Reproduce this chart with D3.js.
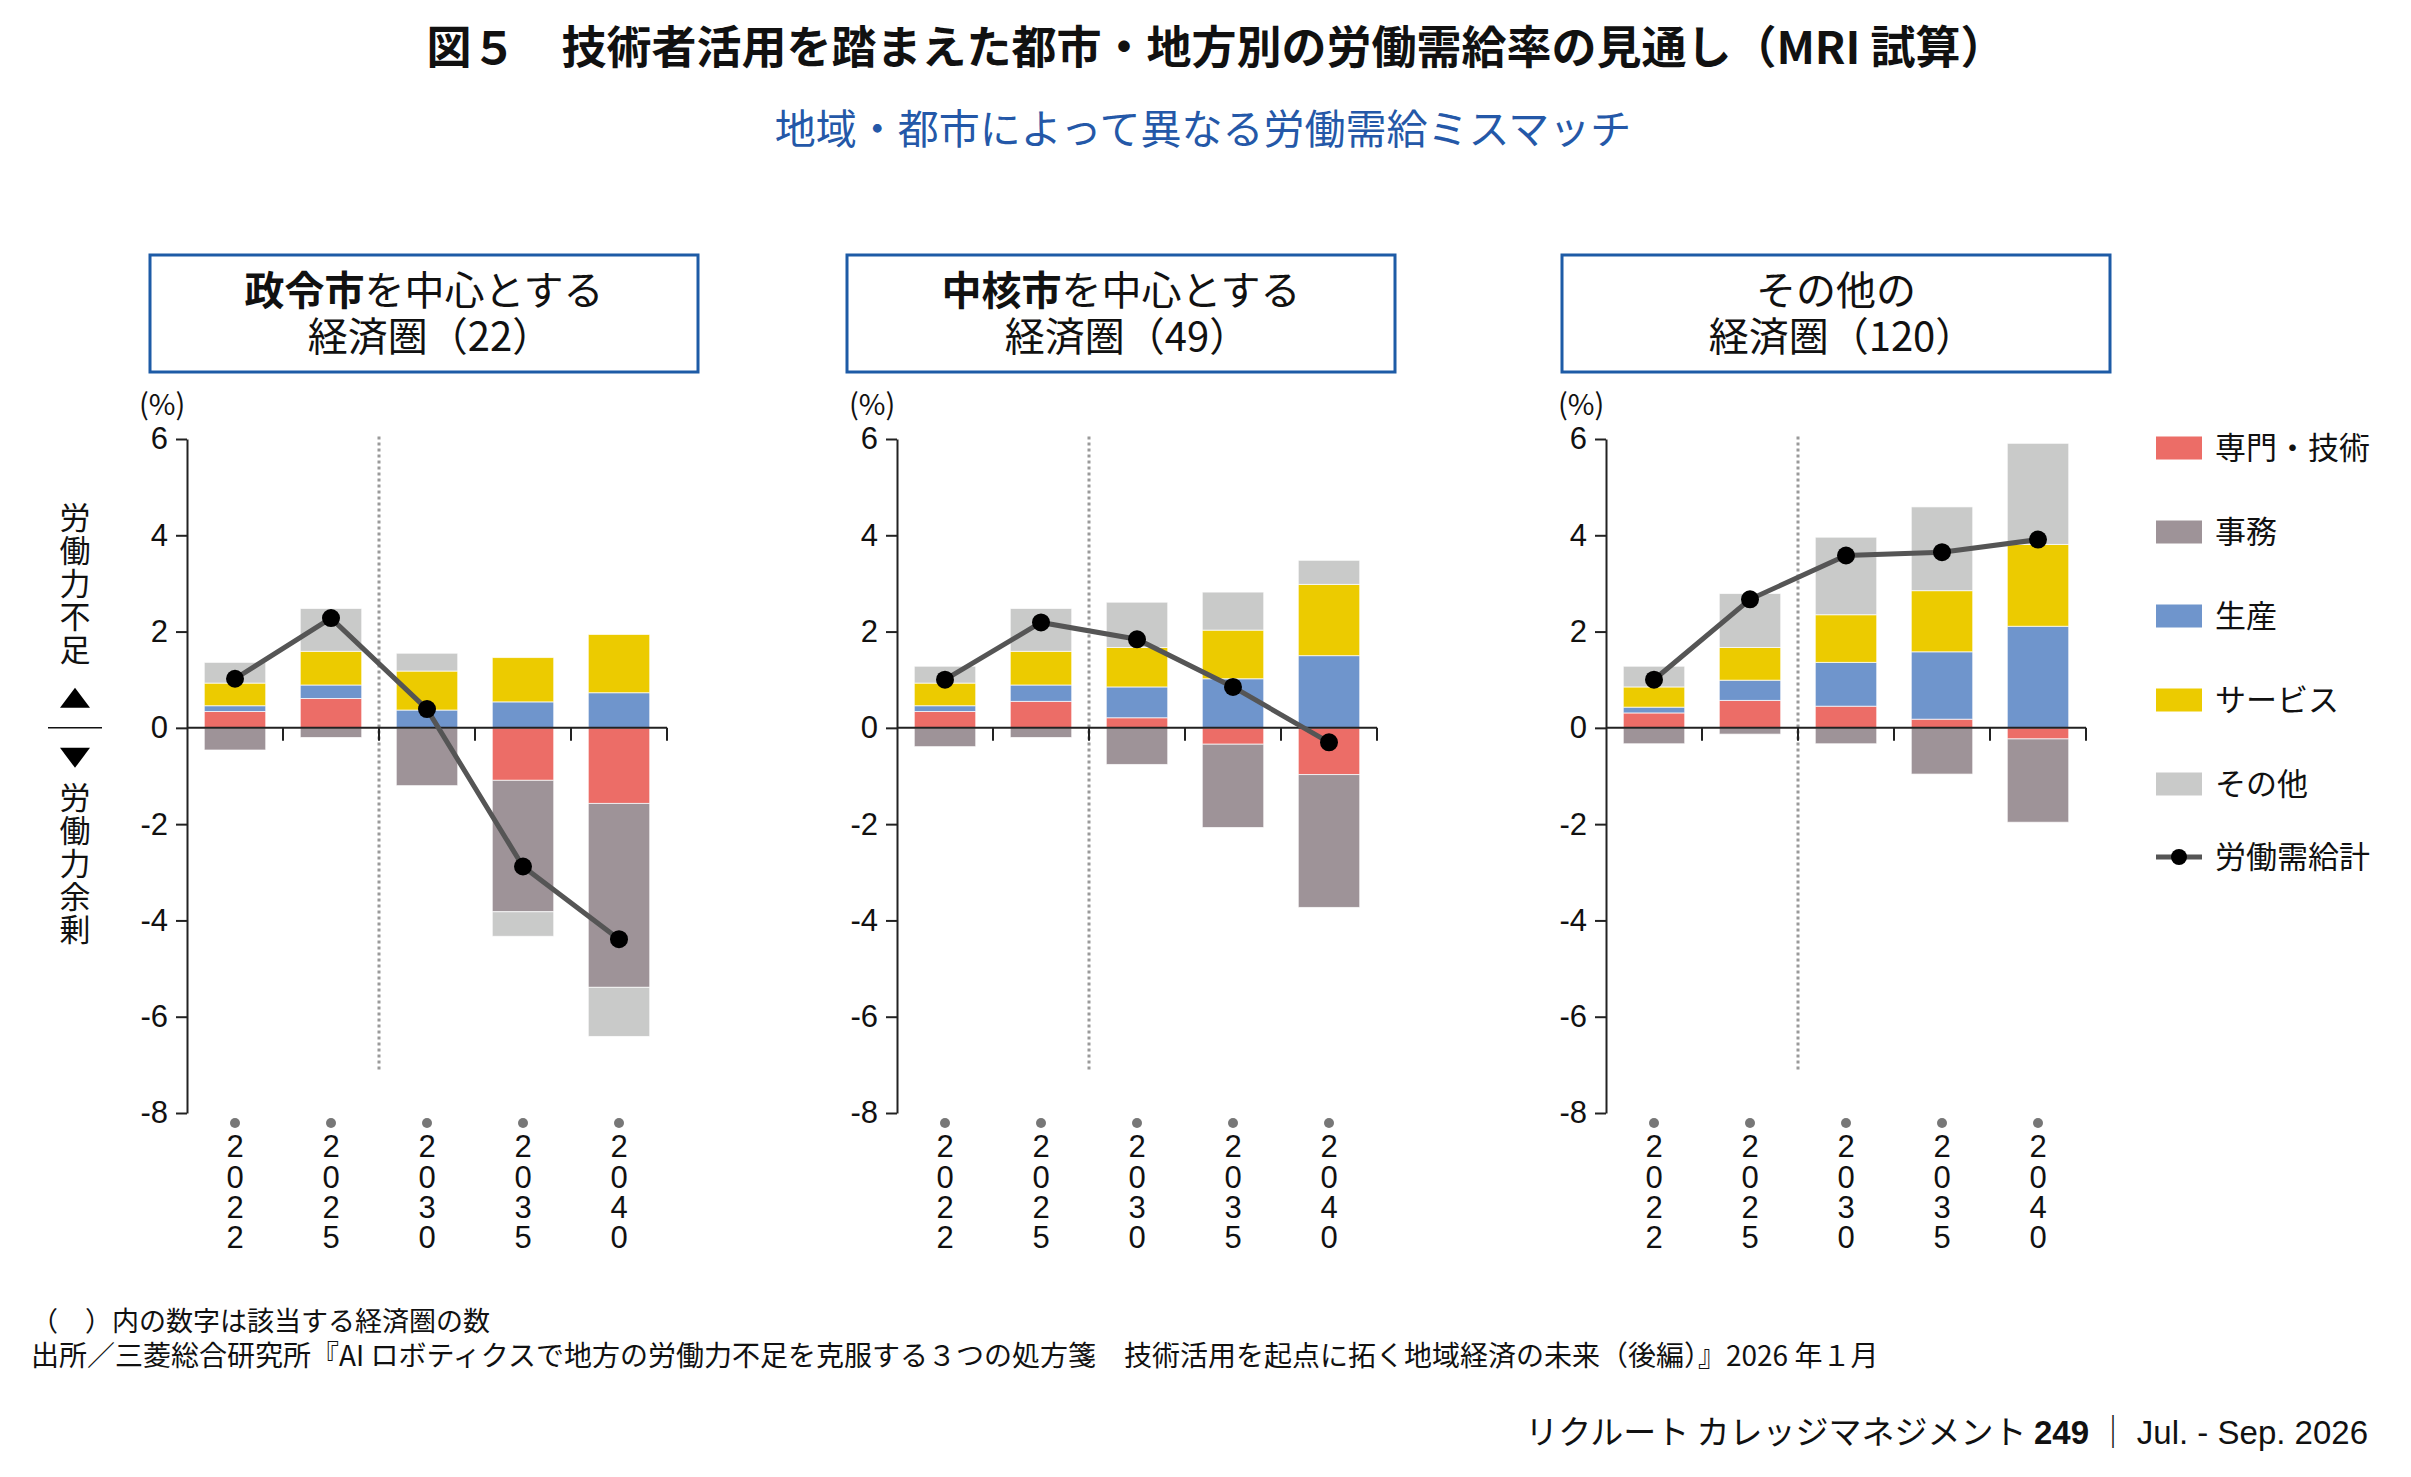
<!DOCTYPE html>
<html lang="ja">
<head>
<meta charset="utf-8">
<title>図5 技術者活用を踏まえた都市・地方別の労働需給率の見通し</title>
<script src="https://cdn.jsdelivr.net/npm/d3@7"></script>
<style>
  body { margin: 0; background: #fff; }
  svg { display: block; font-family: "Noto Sans CJK JP", "Noto Sans", sans-serif; }
  .num { font-family: "Liberation Sans", Arial, sans-serif; }
  .vert { writing-mode: vertical-rl; text-orientation: upright; }
</style>
</head>
<body>
<svg id="chart" width="2411" height="1477"></svg>
<script>
// ---- data (% points) ----
const years = ["2022", "2025", "2030", "2035", "2040"];
const seriesNames = ["専門・技術", "事務", "生産", "サービス", "その他"];
const totalName = "労働需給計";
const yTicks = [-8, -6, -4, -2, 0, 2, 4, 6];

// rows follow seriesNames order, columns follow years
const seireiValues = [
  [0.34, 0.61, 0.00, -1.09, -1.57],
  [-0.46, -0.20, -1.20, -2.73, -3.82],
  [0.12, 0.28, 0.37, 0.54, 0.73],
  [0.47, 0.70, 0.81, 0.92, 1.21],
  [0.43, 0.89, 0.37, -0.51, -1.02]
];
const seireiTotal = [1.02, 2.28, 0.39, -2.88, -4.39];

const chukakuValues = [
  [0.34, 0.55, 0.21, -0.34, -0.97],
  [-0.39, -0.20, -0.76, -1.73, -2.76],
  [0.12, 0.34, 0.64, 1.02, 1.50],
  [0.47, 0.70, 0.82, 1.01, 1.48],
  [0.35, 0.89, 0.94, 0.79, 0.50]
];
const chukakuTotal = [1.00, 2.19, 1.84, 0.85, -0.30];

const otherValues = [
  [0.31, 0.57, 0.45, 0.18, -0.23],
  [-0.33, -0.13, -0.33, -0.96, -1.73],
  [0.12, 0.42, 0.91, 1.40, 2.11],
  [0.42, 0.68, 0.99, 1.27, 1.70],
  [0.43, 1.12, 1.61, 1.74, 2.10]
];
const otherTotal = [1.00, 2.67, 3.58, 3.65, 3.91];

const panelBold = ["政令市", "中核市", ""];
const panelRest = ["を中心とする", "を中心とする", "その他の"];
const panelSub = ["経済圏（22）", "経済圏（49）", "経済圏（120）"];

// ---- styles / layout ----
const colors = ["#ec6d67", "#9e9398", "#6f95cc", "#eccb00", "#c9cac9"];
const lineColor = "#555555";
const boxBlue = "#1d5ba6";
const panelX = [187, 897, 1606];
const boxShift = [-37, -50, -44];
const plotW = 480;

const svg = d3.select("#chart");

const y = d3.scaleLinear().domain([-8, 6]).range([1113, 439]);
const x = d3.scaleBand()
  .domain(years)
  .range([0, plotW])
  .paddingInner(0.36)
  .paddingOuter(0.18);

// titles
svg.append("text")
  .attr("x", 1216).attr("y", 64)
  .attr("text-anchor", "middle")
  .attr("font-size", 45).attr("font-weight", 700).attr("fill", "#111")
  .text("図５　技術者活用を踏まえた都市・地方別の労働需給率の見通し（MRI 試算）");

svg.append("text")
  .attr("x", 1203).attr("y", 144)
  .attr("text-anchor", "middle")
  .attr("font-size", 41).attr("fill", "#2458a8")
  .text("地域・都市によって異なる労働需給ミスマッチ");

/**
 * Draw one panel: header box, axes, diverging stacked bars, total line
 */
function drawPanel(i, values, totals) {
  const g = svg.append("g").attr("transform", `translate(${panelX[i]},0)`);

  // header box
  const bx = boxShift[i];
  g.append("rect")
    .attr("x", bx).attr("y", 255)
    .attr("width", 548).attr("height", 117)
    .attr("fill", "none").attr("stroke", boxBlue).attr("stroke-width", 3);

  const head = g.append("text")
    .attr("x", bx + 274).attr("y", 305)
    .attr("text-anchor", "middle")
    .attr("font-size", 40).attr("fill", "#111");
  if (panelBold[i]) head.append("tspan").attr("font-weight", 700).text(panelBold[i]);
  head.append("tspan").text(panelRest[i]);

  g.append("text")
    .attr("x", bx + 280).attr("y", 351)
    .attr("text-anchor", "middle")
    .attr("font-size", 40).attr("fill", "#111")
    .text(panelSub[i]);

  g.append("text")
    .attr("x", -48).attr("y", 415)
    .attr("font-size", 29).attr("fill", "#111")
    .text("(%)");

  // divider between actual and projection
  g.append("line")
    .attr("x1", x.step() * 2).attr("x2", x.step() * 2)
    .attr("y1", y(6.05)).attr("y2", y(-7.13))
    .attr("stroke", "#9a9a9a").attr("stroke-width", 3)
    .attr("stroke-dasharray", "3,3");

  // stacked bars
  const rows = years.map((yr, j) => {
    const r = { year: yr };
    seriesNames.forEach((s, k) => { r[s] = values[k][j]; });
    return r;
  });
  const stacked = d3.stack()
    .keys(seriesNames)
    .offset(d3.stackOffsetDiverging)(rows);

  g.selectAll(".layer")
    .data(stacked)
    .join("g")
    .attr("class", "layer")
    .attr("fill", (d, k) => colors[k])
    .selectAll("rect")
    .data(d => d)
    .join("rect")
    .attr("x", d => x(d.data.year))
    .attr("width", x.bandwidth())
    .attr("y", d => y(Math.max(d[0], d[1])))
    .attr("height", d => Math.abs(y(d[0]) - y(d[1])))
    .attr("stroke", "rgba(255,255,255,0.7)")
    .attr("stroke-width", 1);

  // y axis
  const yAxis = g.append("g")
    .attr("class", "num")
    .call(d3.axisLeft(y)
      .tickValues(yTicks)
      .tickSize(11)
      .tickSizeOuter(0)
      .tickPadding(8)
      .tickFormat(d => String(d)));
  yAxis.select(".domain").attr("stroke", "#222").attr("stroke-width", 2);
  yAxis.selectAll(".tick line").attr("stroke", "#222").attr("stroke-width", 2);
  yAxis.selectAll(".tick text")
    .attr("font-size", 31).attr("fill", "#111")
    .attr("font-family", "Liberation Sans, Arial, sans-serif");

  // zero line with category boundary ticks
  g.append("line")
    .attr("x1", 0).attr("x2", plotW)
    .attr("y1", y(0)).attr("y2", y(0))
    .attr("stroke", "#222").attr("stroke-width", 2);
  g.selectAll(".btick")
    .data(years)
    .join("line")
    .attr("class", "btick")
    .attr("x1", (d, j) => x.step() * (j + 1))
    .attr("x2", (d, j) => x.step() * (j + 1))
    .attr("y1", y(0)).attr("y2", y(0) + 13)
    .attr("stroke", "#222").attr("stroke-width", 2);

  // total line
  const cx = d => x(d) + x.bandwidth() / 2;
  const line = d3.line()
    .x((d, j) => cx(years[j]))
    .y(d => y(d));
  g.append("path")
    .datum(totals)
    .attr("fill", "none")
    .attr("stroke", lineColor)
    .attr("stroke-width", 5)
    .attr("d", line);
  g.selectAll(".pt")
    .data(totals)
    .join("circle")
    .attr("class", "pt")
    .attr("cx", (d, j) => cx(years[j]))
    .attr("cy", d => y(d))
    .attr("r", 9)
    .attr("fill", "#000");

  // vertical year labels, one digit per row
  const lab = g.selectAll(".yr")
    .data(years)
    .join("g")
    .attr("class", "yr")
    .attr("transform", d => `translate(${cx(d)},0)`);
  lab.append("circle")
    .attr("cy", 1123).attr("r", 5).attr("fill", "#777");
  lab.append("text")
    .attr("class", "num")
    .attr("text-anchor", "middle")
    .attr("font-size", 31).attr("fill", "#111")
    .selectAll("tspan")
    .data(d => d.split(""))
    .join("tspan")
    .attr("x", 0)
    .attr("y", (d, k) => 1146 + k * 30.4)
    .attr("dy", "0.36em")
    .text(d => d);
}

drawPanel(0, seireiValues, seireiTotal);
drawPanel(1, chukakuValues, chukakuTotal);
drawPanel(2, otherValues, otherTotal);

// side label: 労働力不足 ▲ / ▼ 労働力余剰
const side = svg.append("g").attr("font-size", 31).attr("fill", "#111");
side.append("text").attr("class", "vert")
  .attr("x", 75).attr("y", 502)
  .attr("letter-spacing", 2)
  .text("労働力不足");
side.append("text").attr("class", "vert")
  .attr("x", 75).attr("y", 782)
  .attr("letter-spacing", 2)
  .text("労働力余剰");
const z0 = y(0);
side.append("path").attr("d", `M60,${z0 - 20}L90,${z0 - 20}L75,${z0 - 40}Z`).attr("fill", "#000");
side.append("path").attr("d", `M60,${z0 + 20}L90,${z0 + 20}L75,${z0 + 40}Z`).attr("fill", "#000");
side.append("line").attr("x1", 48).attr("x2", 102).attr("y1", z0).attr("y2", z0)
  .attr("stroke", "#111").attr("stroke-width", 1.5);

// legend
const legendY = [448, 532, 616, 700, 784];
const legend = svg.append("g");
seriesNames.forEach((s, k) => {
  legend.append("rect")
    .attr("x", 2156).attr("y", legendY[k] - 11.5)
    .attr("width", 46).attr("height", 23)
    .attr("fill", colors[k]);
  legend.append("text")
    .attr("x", 2215).attr("y", legendY[k]).attr("dy", "0.36em")
    .attr("font-size", 31).attr("fill", "#111")
    .text(s);
});
legend.append("line")
  .attr("x1", 2156).attr("x2", 2202).attr("y1", 857).attr("y2", 857)
  .attr("stroke", lineColor).attr("stroke-width", 5);
legend.append("circle").attr("cx", 2179).attr("cy", 857).attr("r", 8).attr("fill", "#000");
legend.append("text")
  .attr("x", 2215).attr("y", 857).attr("dy", "0.36em")
  .attr("font-size", 31).attr("fill", "#111")
  .text(totalName);

// notes
svg.append("text")
  .attr("x", 31).attr("y", 1331)
  .attr("font-size", 27).attr("fill", "#111")
  .text("（　）内の数字は該当する経済圏の数");
svg.append("text")
  .attr("x", 31).attr("y", 1366)
  .attr("font-size", 28).attr("fill", "#111")
  .text("出所／三菱総合研究所『AI ロボティクスで地方の労働力不足を克服する３つの処方箋　技術活用を起点に拓く地域経済の未来（後編）』2026 年１月");

const foot = svg.append("text")
  .attr("x", 2368).attr("y", 1444)
  .attr("text-anchor", "end")
  .attr("font-size", 33).attr("fill", "#111");
foot.append("tspan").text("リクルート カレッジマネジメント ");
foot.append("tspan").attr("font-weight", 700).attr("font-family", "Liberation Sans, Arial, sans-serif").text("249");
foot.append("tspan").text(" ｜ ");
foot.append("tspan").attr("font-family", "Liberation Sans, Arial, sans-serif").text("Jul. - Sep. 2026");
</script>
</body>
</html>
